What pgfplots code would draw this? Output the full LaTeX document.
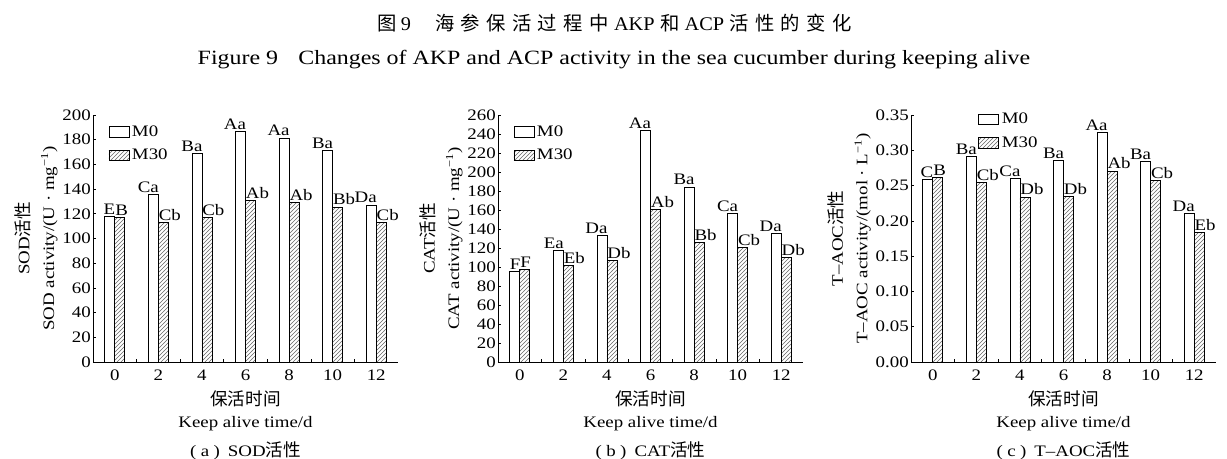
\documentclass[border=0pt]{standalone}
\usepackage{fontspec}
\setmainfont{Liberation Serif}[FakeStretch=1.18]
\newfontfamily\titlefont{Liberation Serif}[FakeStretch=1.05]
\newfontfamily\cjk{Noto Sans CJK SC}[Scale=1.1]
\newfontfamily\cjkt{Noto Sans CJK SC}[LetterSpace=33]
\usepackage{pgfplots}
\pgfplotsset{compat=1.18}
\usetikzlibrary{patterns}
\pgfplotsset{
  myaxis/.style={
    scale only axis, width=228.75pt, height=185.25pt,
    axis lines*=left, ybar=0pt, bar width=7.5pt,
    xmin=-1, xmax=13, xtick={0,2,...,12}, minor xtick={1,3,...,11},
    major x tick style={draw=none},
    tick align=inside, major tick length=2.5pt, minor tick length=2.5pt,
    tick style={black, line width=0.5pt},
    axis line style={line width=0.6pt},
    ymin=0,
    /pgf/number format/assume math mode=true,
    yticklabel style={inner sep=1.5pt},
    xticklabel style={inner sep=2pt, yshift=-3.75pt},
    legend style={draw=none, fill=none, inner sep=0pt, row sep=3.75pt, anchor=north west},
    legend cell align=left,
    legend image code/.code={\draw[##1] (0pt,-4pt) rectangle (15pt,4pt);},
    xlabel style={align=center, yshift=-1.5pt},
    ylabel style={align=center},
    ylabel shift=-2pt,
    every node near coord/.append style={inner sep=1.2pt},
  },
  m0/.style={draw=black, line width=0.6pt, fill=white, nodes near coords, point meta=explicit symbolic,
    every node near coord/.append style={anchor=south east, xshift=5.6pt}},
  m30/.style={draw=black, line width=0.6pt, pattern=north east lines, pattern color=black!60, nodes near coords, point meta=explicit symbolic,
    every node near coord/.append style={anchor=south west, xshift=-4.9pt}},
}
\begin{document}
\fontsize{12}{14.4}\selectfont
\begin{tikzpicture}[font=\fontsize{12}{14.4}\selectfont]
\path[use as bounding box] (0,0) rectangle (920.25pt,344.25pt);
\node at (461pt,327pt) {\fontsize{14.5}{16}\selectfont{\cjkt 图}\hspace{3pt}{\titlefont 9}\hspace{18pt}{\cjkt 海参保活过程中}\hspace{4pt}{\titlefont AKP}\hspace{4pt}{\cjkt 和}\hspace{4pt}{\titlefont ACP}\hspace{4pt}{\cjkt 活性的变化}};
\node at (460.5pt,299.25pt) {\fontsize{15.2}{17}\selectfont Figure 9\quad Changes of AKP and ACP activity in the sea cucumber during keeping alive};

% (a)
\begin{axis}[myaxis, at={(69.75pt,72.75pt)}, anchor=south west,
  ymax=200, ytick={0,20,...,200},
  legend style={at={(0.05,0.969)}},
  ylabel={SOD{\cjk 活性}\\[4pt]SOD activity/(U · mg\textsuperscript{−1})},
  xlabel={{\cjk 保活时间}\\[2.25pt]Keep alive time/d\\[7.25pt](\;a\;)\hspace{6pt}SOD{\cjk 活性}}]
\addplot[m0] coordinates {(0,117.6)[E] (2,135.7)[Ca] (4,168.6)[Ba] (6,186.5)[Aa] (8,181.4)[Aa] (10,171)[Ba] (12,127)[Da]};
\addplot[m30] coordinates {(0,117.3)[B] (2,113.2)[Cb] (4,117)[Cb] (6,131)[Ab] (8,129)[Ab] (10,125.4)[Bb] (12,113.2)[Cb]};
\legend{M0,M30}
\end{axis}

% (b)
\begin{axis}[myaxis, at={(373.5pt,72.75pt)}, anchor=south west,
  ymax=260, ytick={0,20,...,260},
  legend style={at={(0.05,0.969)}},
  ylabel={CAT{\cjk 活性}\\[4pt]CAT activity/(U · mg\textsuperscript{−1})},
  xlabel={{\cjk 保活时间}\\[2.25pt]Keep alive time/d\\[7.25pt](\;b\;)\hspace{6pt}CAT{\cjk 活性}}]
\addplot[m0] coordinates {(0,95.6)[F] (2,117)[Ea] (4,133.2)[Da] (6,243.8)[Aa] (8,184.1)[Ba] (10,156.4)[Ca] (12,134.9)[Da]};
\addplot[m30] coordinates {(0,97)[F] (2,101.5)[Eb] (4,106.5)[Db] (6,160.6)[Ab] (8,125.4)[Bb] (10,120.5)[Cb] (12,109.6)[Db]};
\legend{M0,M30}
\end{axis}

% (c)
\begin{axis}[myaxis, at={(683.25pt,72.75pt)}, anchor=south west,
  ymax=0.35, ytick={0,0.05,...,0.35},
  yticklabel style={/pgf/number format/.cd, fixed, fixed zerofill, precision=2},
  legend style={at={(0.22,1.02)}},
  ylabel={T–AOC{\cjk 活性}\\[4pt]T–AOC activity/(mol · L\textsuperscript{−1})},
  xlabel={{\cjk 保活时间}\\[2.25pt]Keep alive time/d\\[7.25pt](\;c\;)\hspace{6pt}T–AOC{\cjk 活性}}]
\addplot[m0] coordinates {(0,0.2587)[C] (2,0.2909)[Ba] (4,0.2597)[Ca] (6,0.2857)[Ba] (8,0.3254)[Aa] (10,0.2843)[Ba] (12,0.210)[Da]};
\addplot[m30] coordinates {(0,0.2611)[B] (2,0.2545)[Cb] (4,0.2337)[Db] (6,0.2346)[Db] (8,0.2706)[Ab] (10,0.2573)[Cb] (12,0.1835)[Eb]};
\legend{M0,M30}
\end{axis}
\end{tikzpicture}
\end{document}
